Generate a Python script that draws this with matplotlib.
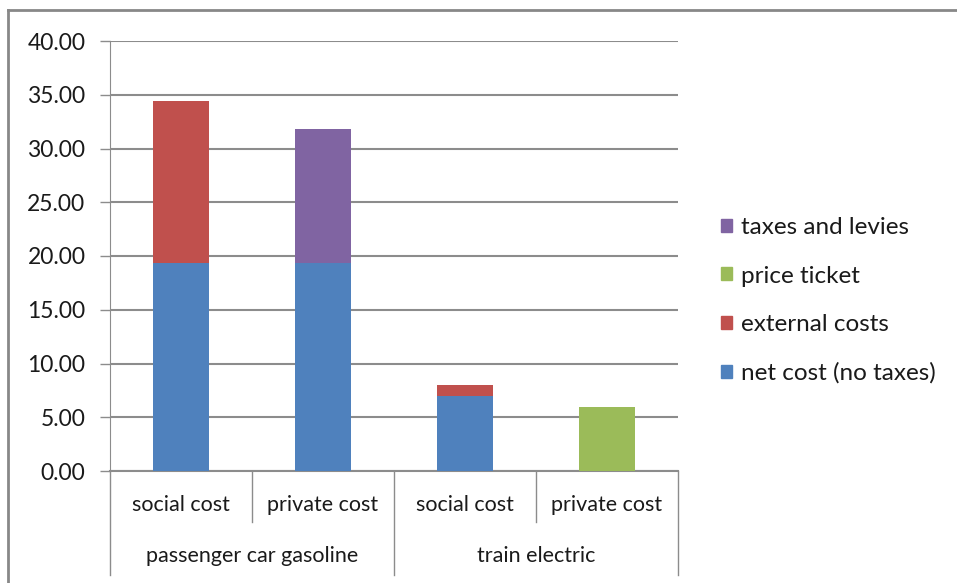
import matplotlib.pyplot as plt
from matplotlib.transforms import blended_transform_factory
from matplotlib.lines import Line2D
from matplotlib.patches import Patch

plt.rcParams['font.family'] = ['Lato', 'DejaVu Sans']

# data
groups = ["passenger car gasoline", "train electric"]
bar_labels = ["social cost", "private cost", "social cost", "private cost"]
net_cost = [19.35, 19.35, 6.95, 0.0]
external_costs = [15.05, 0.0, 1.05, 0.0]
price_ticket = [0.0, 0.0, 0.0, 6.0]
taxes_levies = [0.0, 12.5, 0.0, 0.0]
yticks = [0, 5, 10, 15, 20, 25, 30, 35, 40]

C_NET = '#4F81BD'
C_EXT = '#C0504D'
C_TICKET = '#9BBB59'
C_TAX = '#8064A2'
GRID = '#8C8C8C'
TXT = '#1a1a1a'

W, H = 957, 583
fig = plt.figure(figsize=(W / 100, H / 100), dpi=100)

# outer chart-area border (left and top edges visible)
fig.add_artist(Line2D([8 / W, 8 / W], [0, 1 - 10 / H], color='#888888', lw=2))
fig.add_artist(Line2D([8 / W, 1], [1 - 10 / H, 1 - 10 / H], color='#888888', lw=2))

x0, x1, y0, y1 = 110, 678, 41, 471
ax = fig.add_axes([x0 / W, 1 - y1 / H, (x1 - x0) / W, (y1 - y0) / H])

x = range(len(bar_labels))
bw = 0.4
bottom2 = [a + b for a, b in zip(net_cost, external_costs)]
bottom3 = [a + b for a, b in zip(bottom2, price_ticket)]
ax.bar(x, net_cost, bw, color=C_NET, zorder=3)
ax.bar(x, external_costs, bw, bottom=net_cost, color=C_EXT, zorder=3)
ax.bar(x, price_ticket, bw, bottom=bottom2, color=C_TICKET, zorder=3)
ax.bar(x, taxes_levies, bw, bottom=bottom3, color=C_TAX, zorder=3)

ax.set_xlim(-0.5, 3.5)
ax.set_ylim(0, 40)
ax.set_yticks(yticks)
ax.set_yticklabels([f"{v:.2f}" for v in yticks], fontsize=16.5, color=TXT)
ax.tick_params(axis='y', direction='out', length=7.2, width=1, color=GRID, pad=10.5)
ax.tick_params(axis='x', length=0, labelbottom=False)
ax.grid(axis='y', color=GRID, lw=1.5, zorder=0)
for s in ['top', 'right']:
    ax.spines[s].set_visible(False)
ax.spines['left'].set_color(GRID)
ax.spines['bottom'].set_color(GRID)
ax.spines['bottom'].set_linewidth(1.5)

# two-level category axis
tr = blended_transform_factory(ax.transData, ax.transAxes)
lvl1 = -(522 - y1) / (y1 - y0)
lvl2 = -(575 - y1) / (y1 - y0)
for xb in [0.5, 2.5]:
    ax.plot([xb, xb], [0, lvl1], transform=tr, color=GRID, lw=1, clip_on=False)
for xb in [-0.5, 1.5, 3.5]:
    ax.plot([xb, xb], [0, lvl2], transform=tr, color=GRID, lw=1, clip_on=False)
for i, lab in enumerate(bar_labels):
    ax.text(i, -(505 - y1) / (y1 - y0), lab, transform=tr, ha='center', va='center',
            fontsize=15.5, color=TXT)
for i, g in enumerate(groups):
    ax.text(0.5 + 2 * i, -(556 - y1) / (y1 - y0), g, transform=tr, ha='center',
            va='center', fontsize=15.5, color=TXT)

handles = [Patch(color=C_TAX), Patch(color=C_TICKET), Patch(color=C_EXT), Patch(color=C_NET)]
names = ["taxes and levies", "price ticket", "external costs", "net cost (no taxes)"]
fig.legend(handles, names, loc='upper left', bbox_to_anchor=(709 / W, 1 - 205 / H),
           frameon=False, fontsize=17.5, labelcolor=TXT, handlelength=0.45,
           handleheight=0.45, handletextpad=0.35, labelspacing=1.13, borderpad=0)

fig.savefig('out.png', dpi=100)
